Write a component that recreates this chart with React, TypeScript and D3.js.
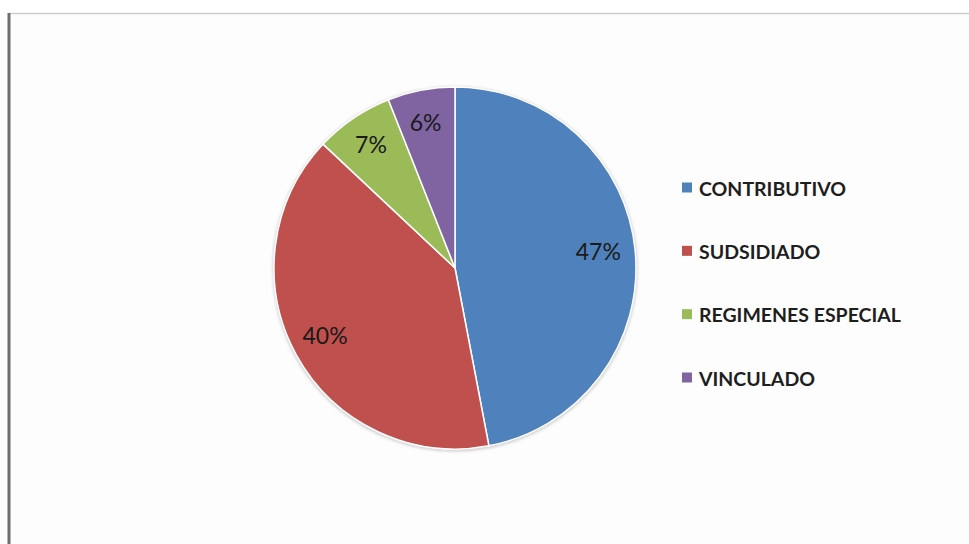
import React from "react";
import * as d3 from "d3";

const categories = ["CONTRIBUTIVO", "SUDSIDIADO", "REGIMENES ESPECIAL", "VINCULADO"];
const values = [47, 40, 7, 6];
const colors = ["#4F81BD", "#C0504D", "#9BBB59", "#8064A2"];

const W = 969;
const H = 544;
const cx = 455;
const cy = 268;
const R = 181;

export default function App() {
  const pie = d3.pie<number>().value((d) => d).sort(null);
  const arcs = pie(values);
  const arc = d3.arc<d3.PieArcDatum<number>>().innerRadius(0).outerRadius(R);
  const labelArc = d3.arc<d3.PieArcDatum<number>>().innerRadius(146).outerRadius(146);
  const total = d3.sum(values);
  const legendY = d3.scalePoint<string>().domain(categories).range([188, 378]);

  return (
    <div style={{ position: "fixed", left: 0, top: 0, width: W, height: H, background: "#fff" }}>
      <svg width={W} height={H} style={{ display: "block" }}>
        <defs>
          <filter id="sh" x="-20%" y="-20%" width="140%" height="140%">
            <feGaussianBlur stdDeviation="1.5" />
          </filter>
        </defs>
        <rect x={9} y={13} width={W - 9} height={H - 13} fill="#fdfdfd" />
        <line x1={9} y1={13.5} x2={W} y2={13.5} stroke="#cfcfcf" strokeWidth={1.5} />
        <line x1={9} y1={13} x2={9} y2={H} stroke="#6e6e6e" strokeWidth={3} />
        <circle cx={cx} cy={cy + 1} r={R + 1.5} fill="#d0d0d0" filter="url(#sh)" />
        <g transform={`translate(${cx},${cy})`}>
          {arcs.map((a, i) => (
            <path key={i} d={arc(a) || ""} fill={colors[i]} stroke="#ffffff" strokeWidth={1.5} />
          ))}
          {arcs.map((a, i) => {
            const [x, y] = labelArc.centroid(a);
            return (
              <text
                key={i}
                x={x - 2}
                y={y - 3}
                textAnchor="middle"
                dominantBaseline="central"
                fontFamily="Lato, 'Open Sans', sans-serif"
                fontSize={23}
                fill="#1a1a1a"
              >
                {Math.round((a.data / total) * 100)}%
              </text>
            );
          })}
        </g>
        {categories.map((c, i) => (
          <g key={c} transform={`translate(682,${legendY(c)})`}>
            <rect x={0} y={-5.5} width={10} height={10} fill={colors[i]} />
            <text
              x={17}
              y={0}
              dominantBaseline="central"
              fontFamily="Lato, 'Open Sans', sans-serif"
              fontWeight={700}
              fontSize={19.5}
              fill="#1e1e1e"
            >
              {c}
            </text>
          </g>
        ))}
      </svg>
    </div>
  );
}
